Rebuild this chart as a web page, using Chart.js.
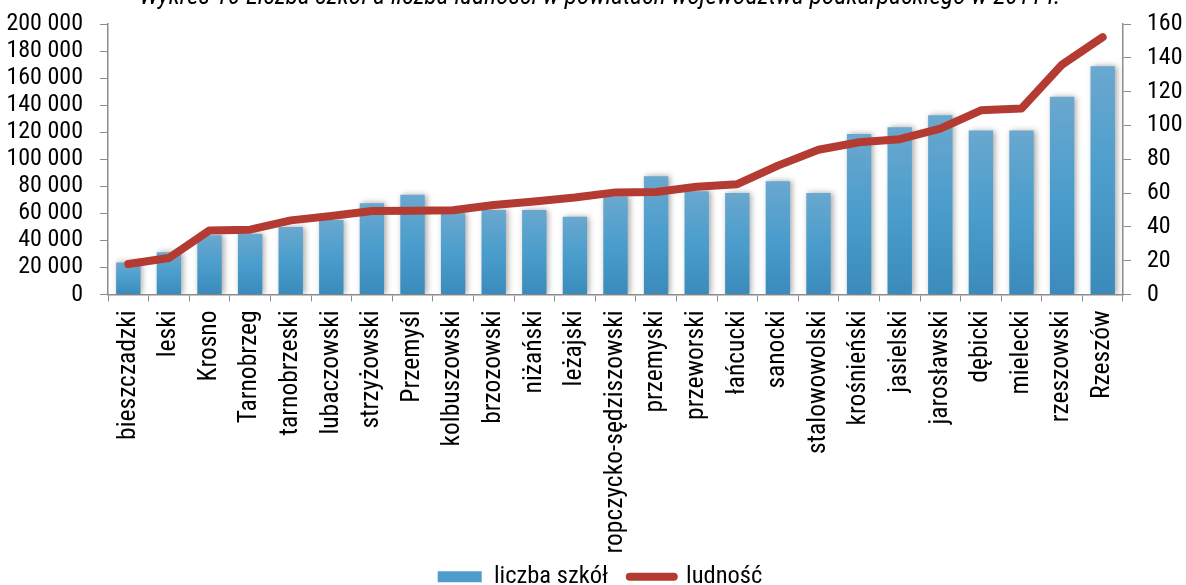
<!DOCTYPE html>
<html>
<head>
<meta charset="utf-8">
<script src="https://cdn.jsdelivr.net/npm/chart.js@4.4.1/dist/chart.umd.min.js"></script>
<style>
html,body{margin:0;padding:0;background:#fff;overflow:hidden;}
canvas{display:block;}
</style>
</head>
<body>
<canvas id="c" width="1186" height="585"></canvas>
<script>
const titleText = 'Wykres 10 Liczba szkół a liczba ludności w powiatach województwa podkarpackiego w 2011 r.';
const categories = ['bieszczadzki','leski','Krosno','Tarnobrzeg','tarnobrzeski','lubaczowski','strzyżowski','Przemyśl','kolbuszowski','brzozowski','niżański','leżajski','ropczycko-sędziszowski','przemyski','przeworski','łańcucki','sanocki','stalowowolski','krośnieński','jasielski','jarosławski','dębicki','mielecki','rzeszowski','Rzeszów'];
const schools = [19,25,35,36,40,44,54,59,48,50,50,46,58,70,61,60,67,60,95,99,106,97,97,117,135];
const population = [22500,27000,47400,47900,54800,58000,61800,62000,62300,66200,68700,71700,75500,75800,79600,81600,95300,107000,112600,114800,122600,136200,137500,170000,190300];
const seriesNames = ['liczba szkół','ludność'];
const leftTicks = {min:0, max:200000, step:20000};
const rightTicks = {min:0, max:160, step:20};

const FONT = "'Roboto Condensed',Roboto,'Liberation Sans',sans-serif";
const AXIS = '#8c8c8c';

const barShadow = {
  id:'barShadow',
  beforeDatasetDraw(chart,args){
    if(args.meta.type==='bar'){
      const c=chart.ctx; c.save();
      c.shadowColor='rgba(0,0,0,0.35)'; c.shadowBlur=6; c.shadowOffsetX=2; c.shadowOffsetY=0;
    }
  },
  afterDatasetDraw(chart,args){
    if(args.meta.type==='bar'){ chart.ctx.restore(); }
  }
};

function fmt(v){ return String(v).replace(/\B(?=(\d{3})+(?!\d))/g,' '); }
function noPad(s){ s.paddingTop=0; s.paddingBottom=0; s.paddingLeft=0; s.paddingRight=0; }

new Chart(document.getElementById('c'),{
  data:{
    labels:categories,
    datasets:[
      {
        type:'line', label:seriesNames[1], data:population, yAxisID:'y', order:0,
        borderColor:'#b33b32', borderWidth:8, pointRadius:0, tension:0,
        borderCapStyle:'round', borderJoinStyle:'round'
      },
      {
        type:'bar', label:seriesNames[0], data:schools, yAxisID:'y2', order:1,
        barPercentage:0.6, categoryPercentage:1,
        backgroundColor:function(ctx){
          const chart=ctx.chart;
          if(!chart.chartArea || ctx.type!=='data' || !chart.scales.y2) return '#4a9bcb';
          const ys=chart.scales.y2;
          const top=ys.getPixelForValue(ctx.raw), base=ys.getPixelForValue(0);
          const g=chart.ctx.createLinearGradient(0,top,0,base);
          g.addColorStop(0,'#6aa8cf'); g.addColorStop(0.5,'#4a9dcc'); g.addColorStop(1,'#3a8bbb');
          return g;
        }
      }
    ]
  },
  options:{
    responsive:false, animation:false, devicePixelRatio:1,
    layout:{padding:{top:0,left:0,right:-14,bottom:-14}},
    plugins:{
      title:{display:true, text:titleText, color:'#000',
        font:{family:FONT,size:25.5,style:'italic',weight:'normal',lineHeight:1.2},
        padding:{top:-17.4,bottom:10.8}},
      tooltip:{enabled:false},
      legend:{display:true, position:'bottom',
        labels:{
          color:'#000', font:{family:FONT,size:24.5,lineHeight:1}, padding:6,
          usePointStyle:true, pointStyleWidth:44, boxWidth:44, boxHeight:11,
          generateLabels:function(){
            return [
              {text:seriesNames[0]+'\u2002\u2009', fillStyle:'#4f9dcb', strokeStyle:'#4f9dcb', lineWidth:0, pointStyle:'rect', datasetIndex:1, fontColor:'#000'},
              {text:seriesNames[1], fillStyle:'#b33b32', strokeStyle:'#b33b32', lineWidth:8, lineCap:'round', pointStyle:'line', datasetIndex:0, fontColor:'#000'}
            ];
          }
        }
      }
    },
    scales:{
      x:{
        grid:{display:true, drawOnChartArea:false, drawTicks:true, tickLength:7, color:AXIS, offset:true},
        border:{color:AXIS, width:1.5},
        ticks:{maxRotation:90, minRotation:90, autoSkip:false, padding:9, color:'#000', font:{family:FONT,size:25.5}},
        afterFit:function(s){ s.height = 264; noPad(s); }
      },
      y:{
        position:'left', min:leftTicks.min, max:leftTicks.max,
        grid:{drawOnChartArea:false, drawTicks:true, tickLength:8, color:AXIS},
        border:{color:AXIS, width:1.5},
        ticks:{stepSize:leftTicks.step, autoSkip:false, padding:17, color:'#000', font:{family:FONT,size:24}, callback:function(v){return fmt(v);}},
        afterFit:function(s){ s.width = 108; noPad(s); }
      },
      y2:{
        position:'right', min:rightTicks.min, max:rightTicks.max,
        grid:{drawOnChartArea:false, drawTicks:true, tickLength:8, color:AXIS},
        border:{color:AXIS, width:1.5},
        ticks:{stepSize:rightTicks.step, autoSkip:false, padding:16, color:'#000', font:{family:FONT,size:24}},
        afterFit:function(s){ s.width = 77; noPad(s); }
      }
    }
  },
  plugins:[barShadow]
});
</script>
</body>
</html>
